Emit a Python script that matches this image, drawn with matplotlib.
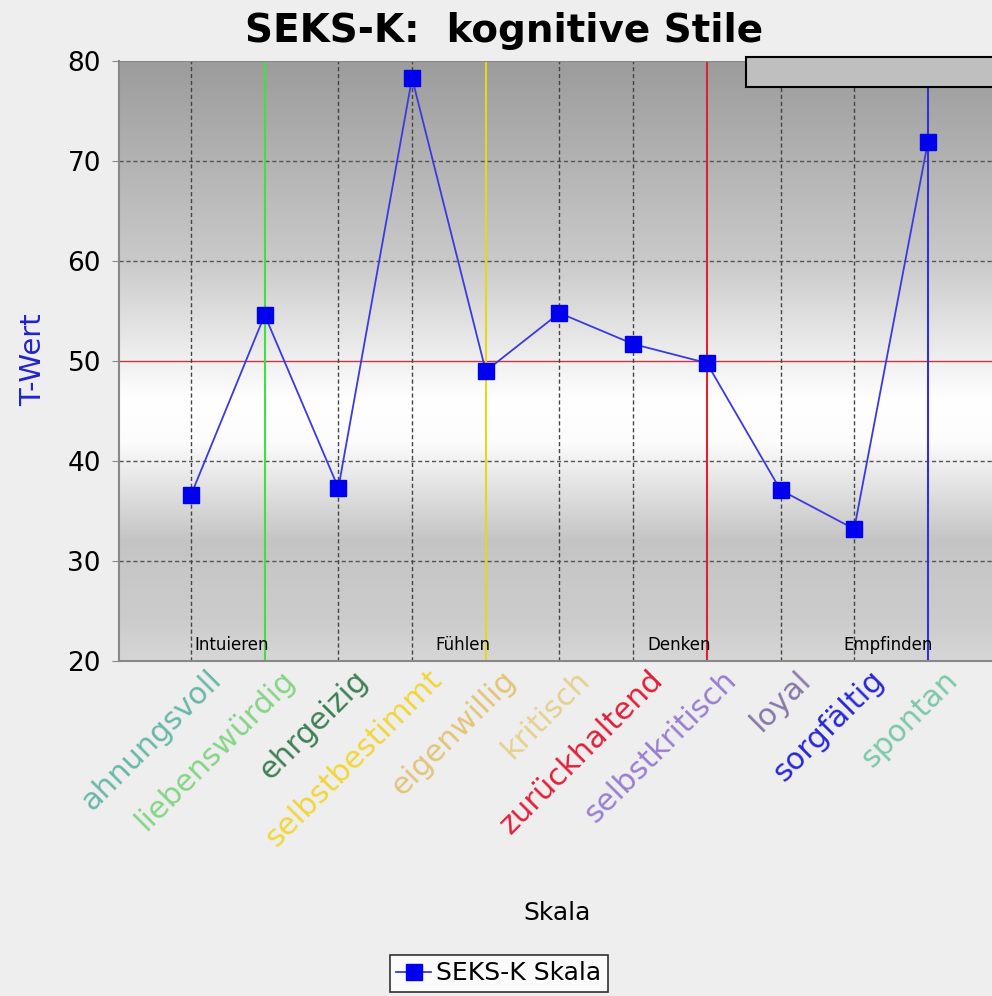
import numpy as np
import matplotlib
matplotlib.use('Agg')
import matplotlib.pyplot as plt
from matplotlib.transforms import ScaledTranslation
from matplotlib.patches import Rectangle

skalen = ['ahnungsvoll', 'liebenswürdig', 'ehrgeizig', 'selbstbestimmt',
          'eigenwillig', 'kritisch', 'zurückhaltend', 'selbstkritisch',
          'loyal', 'sorgfältig', 'spontan']
t_werte = [36.6, 54.6, 37.3, 78.3, 49.0, 54.8, 51.7, 49.8, 37.1, 33.2, 71.9]
label_farben = ['#6ab8a8', '#86d486', '#3f8055', '#f2d63a', '#e2c47a',
                '#e6d08e', '#e0203a', '#9a7ed0', '#8878a8', '#2828d8', '#7cc8a8']

# Gruppen: Trennlinie nach Skala-Index
gruppen = ['Intuieren', 'Fühlen', 'Denken', 'Empfinden']
gruppen_idx = [1, 4, 7, 10]
gruppen_farben = ['#44dd44', '#e6d620', '#dd2233', '#3333cc']

fig = plt.figure(figsize=(9.92, 9.96), dpi=100)
fig.patch.set_facecolor('#eeeeee')
ax = fig.add_axes([119/992, 1 - 661/996, 873/992, 600/996])

x = np.arange(len(skalen))
ax.set_xlim(-0.977, 10.87)
ax.set_ylim(20, 80)

# hintergrund-verlauf
stops_v = [20, 24, 32, 42, 46, 60, 80]
stops_c = [0.84, 0.80, 0.77, 0.99, 1.0, 0.79, 0.61]
yy = np.linspace(20, 80, 300)
g = np.interp(yy, stops_v, stops_c)
img = np.stack([g, g, g], axis=-1)[:, None, :].repeat(2, axis=1)
ax.imshow(img, extent=[-0.977, 10.87, 20, 80], origin='lower',
          aspect='auto', zorder=0)

# grid
for v in [30, 40, 60, 70]:
    ax.axhline(v, color='#555555', lw=1, ls=(0, (3, 2)), zorder=1)
ax.axhline(50, color='#cc3344', lw=1, zorder=1)
for i in x:
    if i not in gruppen_idx:
        ax.axvline(i, color='#444444', lw=1, ls=(0, (3, 2)), zorder=1)
for i, c in zip(gruppen_idx, gruppen_farben):
    ax.axvline(i, color=c, lw=1.5, zorder=2)

for name, i in zip(gruppen, gruppen_idx):
    ax.text(i + 0.06, 20.7, name, ha='right', va='bottom', fontsize=12,
            color='black', zorder=3)

ax.plot(x, t_werte, color='#3a3ae0', lw=1.3, marker='s', markersize=11,
        markerfacecolor='#0000ee', markeredgecolor='#0000ee', zorder=4,
        label='SEKS-K Skala', clip_on=False)

# graue box oben rechts
box = Rectangle((746/992, 1 - 87/996), 260/992, 30/996, transform=fig.transFigure,
                facecolor='#bfbfbf', edgecolor='black', lw=1.5, zorder=10)
fig.patches.append(box)

ax.set_xticks(x)
ax.set_xticklabels(skalen)
ax.tick_params(axis='x', length=0, pad=3)
for lab, c in zip(ax.get_xticklabels(), label_farben):
    lab.set_color(c)
    lab.set_fontsize(22)
    lab.set_rotation(45)
    lab.set_ha('right')
    lab.set_va('top')
    lab.set_rotation_mode('anchor')
    lab.set_transform(lab.get_transform() + ScaledTranslation(0.15, 0, fig.dpi_scale_trans))

ax.set_yticks([20, 30, 40, 50, 60, 70, 80])
ax.tick_params(axis='y', length=5, color='#888888', labelsize=19, pad=8)

for s in ['top', 'right']:
    ax.spines[s].set_visible(False)
for s in ['left', 'bottom']:
    ax.spines[s].set_color('#888888')
    ax.spines[s].set_linewidth(1.5)
ax.axhline(80, color='#888888', lw=1.5, zorder=3)

fig.text(504/992, 1 - 31/996, 'SEKS-K:  kognitive Stile', ha='center', va='center',
         fontsize=28, fontweight='bold')
fig.text(33/992, 1 - 360/996, 'T-Wert', rotation=90, ha='center', va='center',
         fontsize=21, color='#2222cc')
fig.text(557/992, 1 - 913/996, 'Skala', ha='center', va='center', fontsize=18)

leg = fig.legend(loc='upper center', bbox_to_anchor=(499/992, 1 - 955/996),
                 fontsize=18, frameon=True, fancybox=False, handlelength=1.4,
                 handletextpad=0.2, borderpad=0.25, borderaxespad=0)
leg.get_frame().set_edgecolor('black')
leg.get_frame().set_linewidth(1.2)

fig.savefig('out.png', dpi=100, facecolor=fig.get_facecolor())
